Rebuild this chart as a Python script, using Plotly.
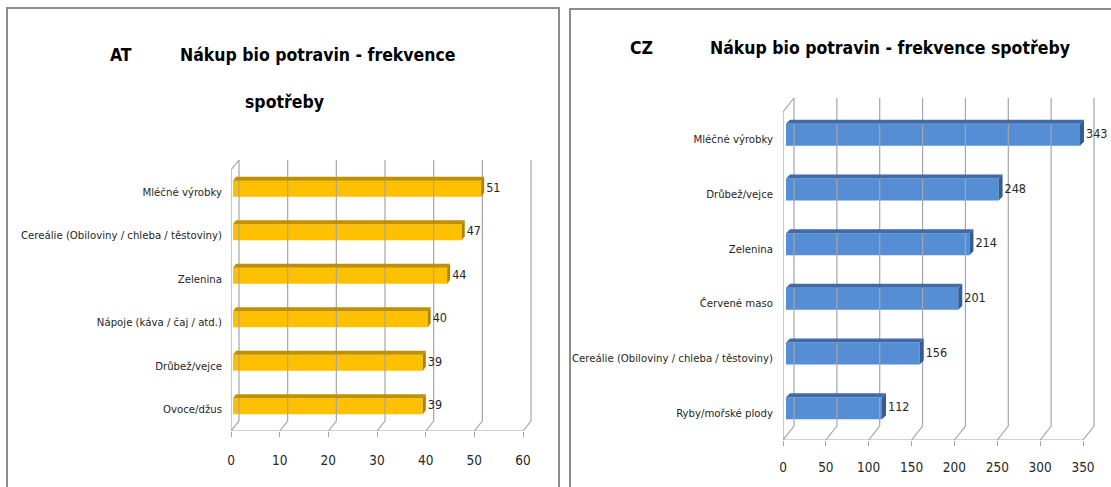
import plotly.graph_objects as go

# ---------------- data ----------------
at_categories = ["Mléčné výrobky", "Cereálie (Obiloviny / chleba / těstoviny)", "Zelenina",
                 "Nápoje (káva / čaj / atd.)", "Drůbež/vejce", "Ovoce/džus"]
at_values = [51, 47, 44, 40, 39, 39]
at_ticks = [0, 10, 20, 30, 40, 50, 60]

cz_categories = ["Mléčné výrobky", "Drůbež/vejce", "Zelenina", "Červené maso",
                 "Cereálie (Obiloviny / chleba / těstoviny)", "Ryby/mořské plody"]
cz_values = [343, 248, 214, 201, 156, 112]
cz_ticks = [0, 50, 100, 150, 200, 250, 300, 350]

W, H = 1111, 487
FONT = "Liberation Sans Narrow, DejaVu Sans Condensed, Arial Narrow, sans-serif"
GRID = "#a6a6a6"
TXT = "#262626"

fig = go.Figure()


def px2paper_x(px):
    return px / W


def px2paper_y(px):
    return 1 - px / H


def panel(n, cats, vals, ticks, g):
    xa = "x" if n == 1 else f"x{n}"
    ya = "y" if n == 1 else f"y{n}"
    ncat = len(cats)
    xmax = ticks[-1]
    kx = g["kx"]
    ky = (g["floor"] - g["top"]) / ncat
    dxu = g["dx"] / kx
    dyu = g["dy"] / ky
    dom_r = min(g["x0"] + kx * xmax + g["dx"] + 40, W)
    dom_t = g["top"] + g["dy"] - 6
    yb = ncat - 0.5
    ytop = -0.5

    # grid / walls
    gx, gy = [], []
    gx += [0, 0, dxu, None]
    gy += [yb, ytop, ytop + dyu, None]
    for b in range(ncat + 1):
        gx += [-4 / kx, 0, None]
        gy += [b - 0.5, b - 0.5, None]
    gx += [0, xmax, None]
    gy += [yb, yb, None]
    for t in ticks:
        gx += [t, t + dxu, t + dxu, None]
        gy += [yb, yb + dyu, ytop + dyu, None]
    fig.add_trace(go.Scatter(x=gx, y=gy, mode="lines", line=dict(color=GRID, width=1.2),
                             hoverinfo="skip", showlegend=False, xaxis=xa, yaxis=ya,
                             cliponaxis=False))

    # bars (front faces)
    bdx = g["bdx"] / kx
    bshift = g["bshift"] / ky
    bh = g["bh"] / ky
    ycent = [i + bshift for i in range(ncat)]
    fig.add_trace(go.Bar(x=vals, y=ycent, base=[bdx] * ncat, orientation="h", width=bh,
                         marker=dict(color=g["front"], line=dict(width=0)),
                         showlegend=False, xaxis=xa, yaxis=ya, hoverinfo="skip"))

    # top and side faces
    tdx = g["tdx"] / kx
    tdy = g["tdy"] / ky
    tx, ty, sx, sy = [], [], [], []
    for v, yc in zip(vals, ycent):
        yt = yc - bh / 2
        ybt = yc + bh / 2
        tx += [bdx, bdx + v, bdx + v + tdx, bdx + tdx, bdx, None]
        ty += [yt, yt, yt + tdy, yt + tdy, yt, None]
        sx += [bdx + v, bdx + v + tdx, bdx + v + tdx, bdx + v, bdx + v, None]
        sy += [yt, yt + tdy, ybt + tdy, ybt, yt, None]
    fig.add_trace(go.Scatter(x=tx, y=ty, mode="lines", fill="toself", fillcolor=g["topc"],
                             line=dict(width=0, color=g["topc"]), hoverinfo="skip",
                             showlegend=False, xaxis=xa, yaxis=ya, cliponaxis=False))
    fig.add_trace(go.Scatter(x=sx, y=sy, mode="lines", fill="toself", fillcolor=g["sidec"],
                             line=dict(width=0, color=g["sidec"]), hoverinfo="skip",
                             showlegend=False, xaxis=xa, yaxis=ya, cliponaxis=False))

    # value labels
    fig.add_trace(go.Scatter(x=[bdx + v + tdx + 2 / kx for v in vals], y=ycent,
                             mode="text", text=[str(v) for v in vals],
                             textposition="middle right",
                             textfont=dict(family=FONT, size=12.5, color=TXT),
                             hoverinfo="skip", showlegend=False, xaxis=xa, yaxis=ya,
                             cliponaxis=False))

    xr = [0, (dom_r - g["x0"]) / kx]
    yr = [yb, ytop - (g["top"] - dom_t) / ky]
    xkey = "xaxis" if n == 1 else f"xaxis{n}"
    ykey = "yaxis" if n == 1 else f"yaxis{n}"
    fig.update_layout(**{
        xkey: dict(domain=[px2paper_x(g["x0"]), px2paper_x(dom_r)], range=xr,
                   anchor=ya, tickvals=ticks, ticktext=[str(t) for t in ticks],
                   ticks="outside", ticklen=5, tickcolor=GRID, showgrid=False,
                   showline=False, zeroline=False, ticklabelstandoff=g["xstand"],
                   automargin=False,
                   tickfont=dict(family=FONT, size=13.5, color=TXT), fixedrange=True),
        ykey: dict(domain=[px2paper_y(g["floor"]), px2paper_y(dom_t)], range=yr,
                   anchor=xa, tickvals=list(range(ncat)), ticktext=cats, ticks="",
                   showgrid=False, showline=False, zeroline=False,
                   ticklabelstandoff=g["ystand"], automargin=False,
                   tickfont=dict(family=FONT, size=11.3, color=TXT), fixedrange=True),
    })


panel(1, at_categories, at_values, at_ticks,
      dict(x0=231, kx=292 / 60, floor=431, top=170, dx=8, dy=-10,
           bdx=2, bshift=-3, bh=16, tdx=3, tdy=-4,
           front="#FFC000", topc="#BF9000", sidec="#B08400", xstand=12, ystand=8))

panel(2, cz_categories, cz_values, cz_ticks,
      dict(x0=783, kx=300 / 350, floor=440, top=112, dx=11, dy=-14,
           bdx=3, bshift=-4.5, bh=22, tdx=4, tdy=-4,
           front="#558ED5", topc="#3F6CA8", sidec="#335D93", xstand=10, ystand=9))

# titles
title_font = dict(family=FONT, size=17.5, color="#000000")
annots = [
    dict(text="<b>AT</b>", x=121, y=55, xanchor="center"),
    dict(text="<b>Nákup bio potravin - frekvence</b>", x=178, y=55, xanchor="left"),
    dict(text="<b>spotřeby</b>", x=284, y=102, xanchor="center"),
    dict(text="<b>CZ</b>", x=641, y=48, xanchor="center"),
    dict(text="<b>Nákup bio potravin - frekvence spotřeby</b>", x=708, y=48, xanchor="left"),
]
fig.update_layout(annotations=[
    dict(text=a["text"], x=px2paper_x(a["x"]), y=px2paper_y(a["y"]), xref="paper",
         yref="paper", xanchor=a["xanchor"], yanchor="middle", showarrow=False,
         font=title_font) for a in annots])

# panel borders
fig.update_layout(shapes=[
    dict(type="rect", xref="paper", yref="paper", x0=px2paper_x(7), x1=px2paper_x(559),
         y0=px2paper_y(520), y1=px2paper_y(8), line=dict(color="#8c8c8c", width=2)),
    dict(type="rect", xref="paper", yref="paper", x0=px2paper_x(570), x1=px2paper_x(1130),
         y0=px2paper_y(520), y1=px2paper_y(9), line=dict(color="#8c8c8c", width=2)),
])

fig.update_layout(width=W, height=H, margin=dict(l=0, r=0, t=0, b=0, autoexpand=False),
                  paper_bgcolor="white", plot_bgcolor="rgba(0,0,0,0)",
                  barmode="overlay", showlegend=False)

fig.write_html("out.html", config={"displayModeBar": False})
